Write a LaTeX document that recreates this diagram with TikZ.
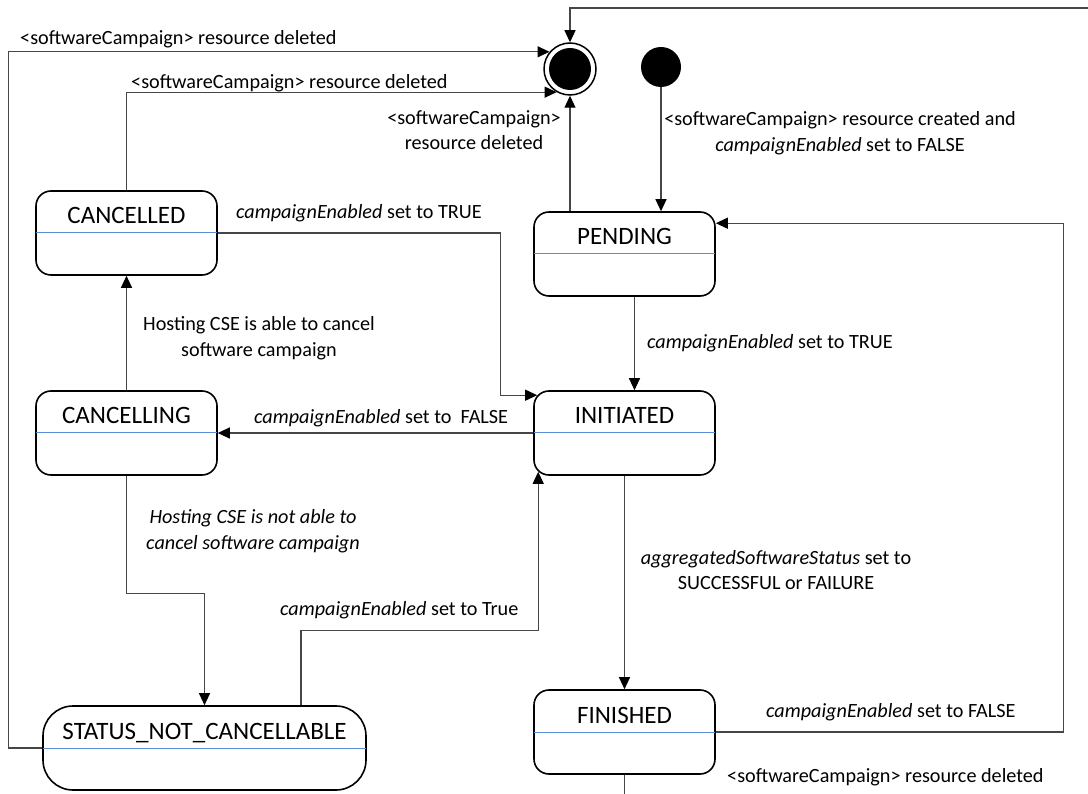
\documentclass[tikz,border=0pt]{standalone}
\usepackage{fontspec}
\setmainfont{Carlito}
\usetikzlibrary{arrows.meta}
\definecolor{divblue}{RGB}{91,140,214}
\definecolor{connc}{RGB}{70,70,70}
\begin{document}
\begin{tikzpicture}[x=1pt,y=-1pt,
  state/.style={draw, line width=1.6pt, rounded corners=15pt, minimum width=181pt, minimum height=84pt, inner sep=0pt},
  stxt/.style={anchor=base, font=\fontsize{25}{29}\selectfont, inner sep=0pt},
  lbl/.style={font=\fontsize{20.2}{25.5}\selectfont, inner sep=0pt, align=center},
  conn/.style={draw=connc, line width=1.2pt, -{Triangle[length=12pt,width=11pt,color=black]}},
  divider/.style={draw=divblue, line width=1pt, shorten <=0.8pt, shorten >=0.8pt}
]
\useasboundingbox (0,0) rectangle (1088,794);
\clip (0,0) rectangle (1088,794);

% pseudo states
\node[circle, draw, line width=1.5pt, minimum size=52pt, inner sep=0pt, fill=white] (final) at (570,69) {};
\node[circle, fill=black, minimum size=42pt, inner sep=0pt] (finalin) at (final.center) {};
\node[circle, fill=black, minimum size=40pt, inner sep=0pt] (initial) at (661,67) {};

% states
\node[state] (cancelled) at (126.5,233) {};
\node[state] (cancelling) at (126.5,433) {};
\node[state] (pending) at (624.5,254) {};
\node[state] (initiated) at (624.5,433) {};
\node[state] (finished) at (624.5,732) {};
\node[state, minimum width=323pt, rounded corners=30pt] (snc) at (204.5,748) {};

\foreach \n in {cancelled,cancelling,pending,initiated,finished,snc}
  \draw[divider] (\n.west) -- (\n.east);

\node[stxt] (cancelled-t) at ([yshift=9pt]cancelled.center) {CANCELLED};
\node[stxt] (cancelling-t) at ([yshift=9pt]cancelling.center) {CANCELLING};
\node[stxt] (pending-t) at ([yshift=9pt]pending.center) {PENDING};
\node[stxt] (initiated-t) at ([yshift=9pt]initiated.center) {INITIATED};
\node[stxt] (finished-t) at ([yshift=9pt]finished.center) {FINISHED};
\node[stxt] (snc-t) at ([yshift=9pt]snc.center) {STATUS\_NOT\_CANCELLABLE};

% connectors
\draw[conn] (initial.south) -- (initial.south |- pending.north);
\draw[conn] (final.south |- pending.north) -- (final.south);
\draw[conn] (snc.west) -- ++(-34,0) |- (final.140);
\draw[conn] (cancelled.north) |- (final.240);
\draw[conn] (cancelled.east) -- ++(283,0) |- ([xshift=4pt,yshift=-5pt]initiated.north west);
\draw[conn] (initiated.west) -- (cancelling.east);
\draw[conn] (cancelling.north) -- (cancelled.south);
\draw[conn] (cancelling.south) -- ++(0,118) -| (snc.north);
\draw[conn] ([xshift=96.5pt]snc.north) -- ++(0,-75) -| ([xshift=5pt,yshift=4pt]initiated.south west);
\draw[conn] ([xshift=10pt]pending.south) -- ([xshift=10pt]initiated.north);
\draw[conn] (initiated.south) -- (finished.north);
\draw[conn] (finished.east) -- ++(348,0) |- ([yshift=-12pt]pending.north east);
\draw[conn] (finished.south) -- ++(0,60) -| (1120,8) -| (final.north);

% labels
\node[lbl, anchor=west] (l1) at (20,39) {<softwareCampaign> resource deleted};
\node[lbl, anchor=west] (l2) at (131,83) {<softwareCampaign> resource deleted};
\node[lbl] (l3) at (474,130) {<softwareCampaign>\\resource deleted};
\node[lbl] (l4) at (840,133) {<softwareCampaign> resource created and\\\textit{campaignEnabled} set to FALSE};
\node[lbl, anchor=west] (l5) at (236,213) {\textit{campaignEnabled} set to TRUE};
\node[lbl, anchor=west] (l6) at (647,343) {\textit{campaignEnabled} set to TRUE};
\node[lbl] (l7) at (259,338) {Hosting CSE is able to cancel\\software campaign};
\node[lbl, anchor=west] (l8) at (254,418) {\textit{campaignEnabled} set to\ \ FALSE};
\node[lbl, font=\fontsize{20.2}{25.5}\selectfont\itshape] (l9) at (253,531) {Hosting CSE is not able to\\cancel software campaign};
\node[lbl, anchor=west] (l10) at (280,610) {\textit{campaignEnabled} set to True};
\node[lbl] (l11) at (776,570) {\textit{aggregatedSoftwareStatus} set to\\SUCCESSFUL or FAILURE};
\node[lbl, anchor=west] (l12) at (766,712) {\textit{campaignEnabled} set to FALSE};
\node[lbl, anchor=west] (l13) at (727,777) {<softwareCampaign> resource deleted};
\end{tikzpicture}
\end{document}
